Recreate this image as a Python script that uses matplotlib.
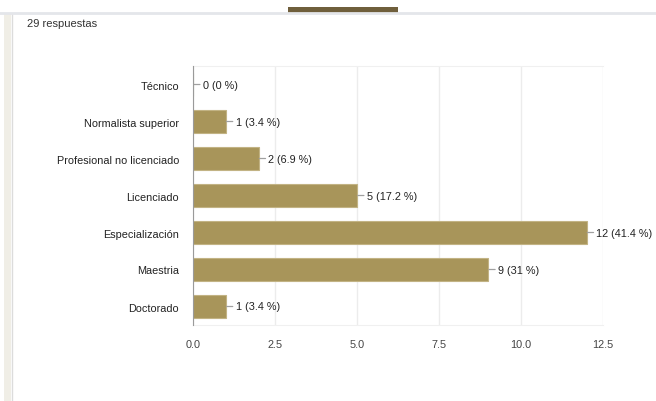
import matplotlib
matplotlib.use("Agg")
import matplotlib.pyplot as plt
from matplotlib.patches import Rectangle
from matplotlib.lines import Line2D

categories = ["Técnico", "Normalista superior", "Profesional no licenciado",
              "Licenciado", "Especialización", "Maestria", "Doctorado"]
values = [0, 1, 2, 5, 12, 9, 1]
percents = ["0 %", "3.4 %", "6.9 %", "17.2 %", "41.4 %", "31 %", "3.4 %"]
xticks = [0.0, 2.5, 5.0, 7.5, 10.0, 12.5]
xtick_labels = ["0.0", "2.5", "5.0", "7.5", "10.0", "12.5"]
header = "29 respuestas"

plt.rcParams['font.family'] = ['Liberation Sans', 'DejaVu Sans']

W, H = 656, 402
fig = plt.figure(figsize=(W / 100, H / 100), dpi=100)

# frame decorations
fig.add_artist(Rectangle((4 / W, 0), 7 / W, 1 - 15 / H, transform=fig.transFigure,
                         facecolor="#f0eee6", edgecolor="none"))
fig.add_artist(Line2D([12 / W, 12 / W], [0, 1 - 15 / H], transform=fig.transFigure,
                      color="#dcdcdc", lw=1))
fig.add_artist(Line2D([0, 1], [1 - 14 / H, 1 - 14 / H], transform=fig.transFigure,
                      color="#e4e6ea", lw=2))
fig.add_artist(Rectangle((288 / W, 1 - 13.5 / H), 110 / W, 5.5 / H, transform=fig.transFigure,
                         facecolor="#6f5f3c", edgecolor="none"))
fig.text(27 / W, 1 - 24 / H, header, fontsize=8, color="#333333", va="center", ha="left")

ax = fig.add_axes([193 / W, 1 - 326 / H, 410 / W, 259 / H])
y = list(range(len(categories)))
ax.barh(y, values, height=0.6, color="#a8955a", edgecolor="#c2b384", linewidth=0.8, zorder=3)
ax.set_ylim(len(categories) - 0.5, -0.5)
ax.set_xlim(0, 12.5)
ax.set_yticks(y)
ax.set_yticklabels(categories, fontsize=7.8, color="#222222")
ax.set_xticks(xticks)
ax.set_xticklabels(xtick_labels, fontsize=7.8, color="#444444")
ax.tick_params(axis="y", length=0, pad=10)
ax.tick_params(axis="x", length=0, pad=10)
ax.grid(axis="x", color="#ececec", lw=1, zorder=0)
for s in ["top", "bottom", "right"]:
    ax.spines[s].set_color("#f0f0f0")
ax.spines["right"].set_visible(False)
ax.spines["left"].set_color("#9a9a9a")
ax.spines["left"].set_zorder(4)

for yi, v, p in zip(y, values, percents):
    ax.annotate(f"{v} ({p})", xy=(v, yi), xytext=(7, 0), textcoords="offset points",
                va="center", ha="left", fontsize=7.8, color="#222222",
                arrowprops=dict(arrowstyle="-", color="#a0a0a0", lw=0.9,
                                shrinkA=0, shrinkB=0.5))

fig.savefig("out.png", dpi=100)
